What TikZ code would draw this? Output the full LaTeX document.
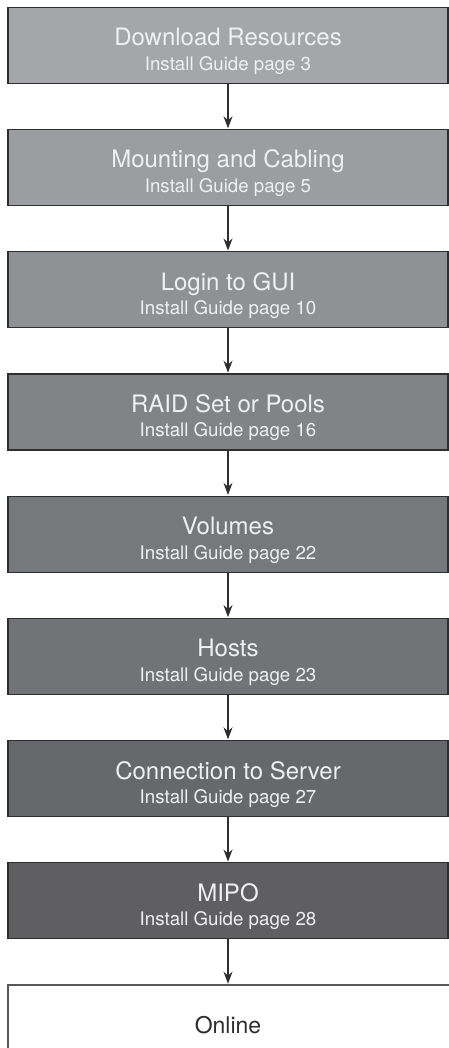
\documentclass[tikz,border=0pt]{standalone}
\usepackage{fontspec}
\setmainfont{TeX Gyre Heros}
\usetikzlibrary{positioning,arrows.meta}
\definecolor{stepA}{HTML}{A5A6A9}
\definecolor{stepB}{HTML}{9C9DA0}
\definecolor{stepC}{HTML}{909194}
\definecolor{stepD}{HTML}{828386}
\definecolor{stepE}{HTML}{77787B}
\definecolor{stepF}{HTML}{727377}
\definecolor{stepG}{HTML}{67686C}
\definecolor{stepH}{HTML}{5F5F61}
\definecolor{edgegray}{HTML}{2E2E2E}
\definecolor{textlight}{HTML}{F0F0F0}
\tikzset{
  stepbox/.style={draw=edgegray,line width=1.2pt,rectangle,minimum width=440pt,minimum height=76pt,inner sep=0pt},
  titletext/.style={anchor=base,text=textlight,font=\fontsize{24}{28}\selectfont,inner sep=0pt},
  subtext/.style={anchor=base,text=textlight,font=\fontsize{18.7}{22}\selectfont,inner sep=0pt},
  flow/.style={draw=edgegray,line width=1.3pt,-{Stealth[length=12pt,width=9pt]},shorten >=0.6pt}
}
\begin{document}
\begin{tikzpicture}[x=1pt,y=1pt,node distance=45pt]
  \useasboundingbox (0,0) rectangle (449,-1048);
  % steps
  \node[stepbox,fill=stepA] (res) at (228,-45.3) {};
  \node[stepbox,fill=stepB,below=of res] (mount) {};
  \node[stepbox,fill=stepC,below=of mount] (gui) {};
  \node[stepbox,fill=stepD,below=of gui] (raid) {};
  \node[stepbox,fill=stepE,below=of raid] (vol) {};
  \node[stepbox,fill=stepF,below=of vol] (hosts) {};
  \node[stepbox,fill=stepG,below=of hosts] (conn) {};
  \node[stepbox,fill=stepH,below=of conn] (mipo) {};
  \node[stepbox,draw=edgegray!80,fill=white,minimum width=446pt,below=of mipo,xshift=3pt] (online) {};
  % labels
  \foreach \n/\t/\p in {res/Download Resources/3, mount/Mounting and Cabling/5, gui/Login to GUI/10,
      raid/RAID Set or Pools/16, vol/Volumes/22, hosts/Hosts/23, conn/Connection to Server/27, mipo/MIPO/28}{
    \node[titletext] (\n-title) at ([yshift=-0.5pt]\n.center) {\t};
    \node[subtext] (\n-page) at ([yshift=-25pt]\n.center) {Install Guide page \p};
  }
  \node[titletext,text=edgegray,font=\fontsize{23}{27}\selectfont] (online-title) at ([xshift=-3pt,yshift=-11pt]online.center) {Online};
  % arrows
  \draw[flow] (res) -- (mount);
  \draw[flow] (mount) -- (gui);
  \draw[flow] (gui) -- (raid);
  \draw[flow] (raid) -- (vol);
  \draw[flow] (vol) -- (hosts);
  \draw[flow] (hosts) -- (conn);
  \draw[flow] (conn) -- (mipo);
  \draw[flow] (mipo.south) -- (mipo.south |- online.north);
\end{tikzpicture}
\end{document}
